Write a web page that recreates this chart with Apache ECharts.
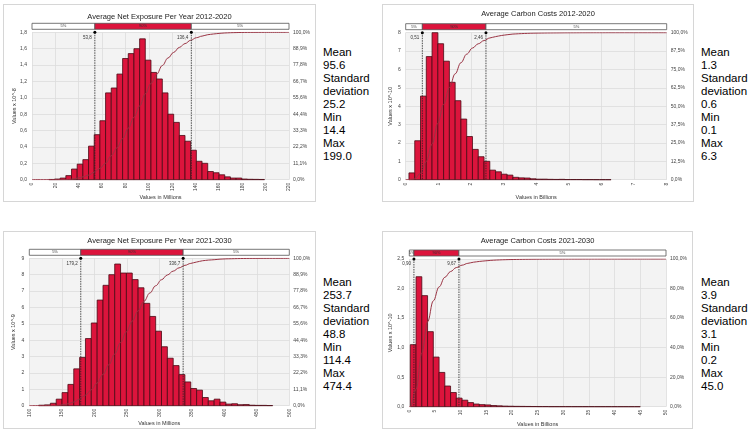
<!DOCTYPE html>
<html><head><meta charset="utf-8">
<script src="https://cdn.jsdelivr.net/npm/echarts@6/dist/echarts.min.js"></script>
<style>
html,body{margin:0;padding:0;background:#fff}
body{width:750px;height:433px;position:relative;overflow:hidden}
.panel{position:absolute;border:1px solid #d6d6d6;box-sizing:border-box;background:#fff}
.chart{width:100%;height:100%}
.stats{position:absolute;font-family:"Liberation Sans",Arial,sans-serif;font-size:11.5px;line-height:13px;color:#000;white-space:pre}
</style></head><body>
<div class="panel" style="left:3px;top:4px;width:313px;height:198px"><div id="c1" class="chart"></div></div>
<div class="panel" style="left:382px;top:4px;width:312px;height:198px"><div id="c2" class="chart"></div></div>
<div class="panel" style="left:3px;top:231px;width:313px;height:198px"><div id="c3" class="chart"></div></div>
<div class="panel" style="left:382px;top:231px;width:311px;height:198px"><div id="c4" class="chart"></div></div>
<div id="s1" class="stats" style="left:323px;top:46px"></div>
<div id="s2" class="stats" style="left:701px;top:46px"></div>
<div id="s3" class="stats" style="left:323px;top:276px"></div>
<div id="s4" class="stats" style="left:701px;top:276px"></div>
<script>
// ---------- DATA ----------
const titles = ["Average Net Exposure Per Year 2012-2020", "Average Carbon Costs 2012-2020",
                "Average Net Exposure Per Year 2021-2030", "Average Carbon Costs 2021-2030"];
const xNames = ["Values in Millions", "Values in Billions", "Values in Millions", "Values in Billions"];
const yNames = ["Values x 10^-8", "Values x 10^-10", "Values x 10^-9", "Values x 10^-10"];

// histogram bins: first bin start and bin width (x units)
const binStarts = [14.4, 0.1, 114.4, 0.2];
const binWidths = [4.858, 0.177, 9.0, 1.12];

const heights1 = [0.003, 0.008, 0.02, 0.05, 0.13, 0.19, 0.245, 0.41, 0.55, 0.72, 1.06, 1.12, 1.29, 1.48,
  1.54, 1.60, 1.72, 1.46, 1.31, 1.23, 1.06, 0.80, 0.70, 0.54, 0.47, 0.36, 0.225, 0.20, 0.10, 0.085,
  0.06, 0.035, 0.02, 0.02, 0.008, 0.005, 0.004, 0.003];
const heights2 = [0.37, 2.12, 4.55, 6.7, 8.0, 7.4, 6.45, 5.3, 4.3, 3.3, 2.35, 1.65, 1.25, 1.0, 0.52,
  0.43, 0.3, 0.25, 0.13, 0.1, 0.09, 0.05, 0.03, 0.03, 0.02, 0.015, 0.02, 0.01, 0.01, 0.01, 0.005,
  0.005, 0.003, 0.002, 0.002];
const heights3 = [0.03, 0.05, 0.15, 0.4, 0.8, 1.3, 2.25, 2.95, 4.1, 5.05, 6.45, 7.35, 8.0, 8.65, 8.1,
  8.1, 7.7, 7.2, 6.25, 5.45, 4.55, 3.6, 2.9, 2.45, 1.9, 1.45, 1.05, 0.95, 0.5, 0.3, 0.4, 0.22, 0.1,
  0.12, 0.06, 0.07, 0.03, 0.02, 0.02, 0.01];
const heights4 = [1.05, 2.2, 1.88, 1.27, 0.84, 0.58, 0.35, 0.24, 0.145, 0.11, 0.07, 0.045, 0.035, 0.03,
  0.02, 0.015, 0.01, 0.008, 0.006, 0.005, 0.004, 0.003, 0.002, 0.002, 0.001, 0.001, 0.001, 0.001,
  0.0005, 0.0005, 0.0005, 0.0005, 0.0003, 0.0003, 0.0003, 0.0002, 0.0002, 0.0002, 0.0001, 0.0001];

// 5% / 95% percentiles
const pct1 = [53.8, 136.4];
const pct2 = [0.51, 2.46];
const pct3 = [179.2, 336.7];
const pct4 = [0.90, 9.67];
const bandLabels = ["5%", "90%", "5%"];

// axes: [min, max, interval]
const xAxes = [[0, 220, 20], [0, 8, 1], [100, 500, 50], [0, 50, 5]];
const yAxes = [[0, 1.8, 0.2], [0, 8, 1], [0, 9, 1], [0, 2.5, 0.5]];
const yDecimals = [1, 0, 0, 1];

const stats1 = ["Mean", "95.6", "Standard", "deviation", "25.2", "Min", "14.4", "Max", "199.0"];
const stats2 = ["Mean", "1.3", "Standard", "deviation", "0.6", "Min", "0.1", "Max", "6.3"];
const stats3 = ["Mean", "253.7", "Standard", "deviation", "48.8", "Min", "114.4", "Max", "474.4"];
const stats4 = ["Mean", "3.9", "Standard", "deviation", "3.1", "Min", "0.2", "Max", "45.0"];

// ---------- LAYOUT / STYLE ----------
const grids = [
  {left: 28, top: 27.3, width: 257, height: 147.4},
  {left: 22.7, top: 27.7, width: 261, height: 147},
  {left: 25.3, top: 26.3, width: 260, height: 147.4},
  {left: 26.3, top: 27, width: 256.7, height: 147.7}
];
const yNameGaps = [15, 12.5, 12.5, 16];
const titleTops = [3, 0, 0, 0];
const RED = '#DC143C';
const FONT = '"Liberation Sans", Arial, sans-serif';
const comma = (v, d) => v.toFixed(d).replace('.', ',');

function buildOption(i, heights, pct) {
  const [xmin, xmax, xint] = xAxes[i];
  const [ymin, ymax, yint] = yAxes[i];
  const start = binStarts[i], w = binWidths[i];
  const nTicks = Math.round((ymax - ymin) / yint);
  const hist = heights.map((h, k) => [start + k * w, start + (k + 1) * w, h]);
  const total = heights.reduce((a, b) => a + b, 0);
  const cdf = [[xmin, 0], [start, 0]];
  let c = 0;
  heights.forEach((h, k) => { c += h; cdf.push([start + (k + 1) * w, c / total * 100]); });
  cdf.push([xmax, 100]);
  const band = [[xmin, pct[0]], [pct[0], pct[1]], [pct[1], xmax]];

  return {
    animation: false,
    textStyle: {fontFamily: FONT},
    title: {text: titles[i], left: 'center', top: titleTops[i],
      textStyle: {fontSize: 7.5, fontWeight: 'normal', color: '#222', fontFamily: FONT}},
    grid: Object.assign({show: true, backgroundColor: '#f3f3f3', borderWidth: 0,
      containLabel: false, outerBoundsMode: 'none'}, grids[i]),
    xAxis: {type: 'value', min: xmin, max: xmax, interval: xint,
      name: xNames[i], nameLocation: 'middle', nameGap: 14.5, nameMoveOverlap: false,
      nameTextStyle: {fontSize: 5.5, color: '#333'},
      axisLine: {show: false}, axisTick: {show: false},
      axisLabel: {rotate: 90, fontSize: 5, color: '#444', margin: 3},
      splitLine: {show: true, lineStyle: {color: '#dcdcdc', width: 0.8}}},
    yAxis: [
      {type: 'value', min: ymin, max: ymax, interval: yint,
        name: yNames[i], nameLocation: 'middle', nameGap: yNameGaps[i], nameRotate: 90, nameMoveOverlap: false,
        nameTextStyle: {fontSize: 5.5, color: '#333'},
        axisLine: {show: false}, axisTick: {show: false},
        axisLabel: {fontSize: 5, color: '#444', margin: 5, formatter: v => comma(v, yDecimals[i])},
        splitLine: {show: true, lineStyle: {color: '#dcdcdc', width: 0.8}}},
      {type: 'value', min: 0, max: 100, interval: 100 / nTicks, position: 'right',
        axisLine: {show: false}, axisTick: {show: false}, splitLine: {show: false},
        axisLabel: {fontSize: 5, color: '#444', margin: 4, formatter: v => comma(v, 1) + '%'}}
    ],
    series: [
      {type: 'custom', name: 'hist', data: hist, encode: {x: [0, 1], y: 2},
        renderItem: (params, api) => {
          const a = api.coord([api.value(0), api.value(2)]);
          const b = api.coord([api.value(1), 0]);
          return {type: 'rect', shape: {x: a[0], y: a[1], width: b[0] - a[0], height: b[1] - a[1]},
            style: {fill: RED, stroke: '#4a0a14', lineWidth: 0.8}};
        }},
      {type: 'line', yAxisIndex: 1, data: cdf, showSymbol: false, smooth: 0.4, smoothMonotone: 'x',
        lineStyle: {color: '#9a3444', width: 1}, z: 5},
      {type: 'custom', name: 'band', data: band, encode: {x: [0, 1]}, clip: false, z: 6,
        renderItem: (params, api) => {
          const a = api.coord([api.value(0), ymax]);
          const b = api.coord([api.value(1), ymax]);
          const h = 6, y = a[1] - 3 - h;
          const red = params.dataIndex === 1;
          return {type: 'group', children: [
            {type: 'rect', shape: {x: a[0], y: y, width: b[0] - a[0], height: h},
              style: {fill: red ? RED : '#ffffff', stroke: '#555', lineWidth: 0.8}},
            {type: 'text', style: {text: bandLabels[params.dataIndex], x: (a[0] + b[0]) / 2, y: y + h / 2,
              align: 'center', verticalAlign: 'middle', fontSize: 4, fill: red ? '#333' : '#444', fontFamily: FONT}}
          ]};
        }},
      {type: 'custom', name: 'pct', data: pct.map(p => [p]), encode: {x: 0}, clip: false, z: 7,
        renderItem: (params, api) => {
          const t = api.coord([api.value(0), ymax]);
          const b = api.coord([api.value(0), 0]);
          const p = pct[params.dataIndex];
          return {type: 'group', children: [
            {type: 'line', shape: {x1: t[0], y1: t[1], x2: b[0], y2: b[1]},
              style: {stroke: '#222', lineWidth: 0.8, lineDash: [1.5, 1]}},
            {type: 'circle', shape: {cx: t[0], cy: t[1], r: 1.5}, style: {fill: '#000'}},
            {type: 'text', style: {text: comma(p, p < 10 ? 2 : 1), x: t[0] - 3, y: t[1] + 5,
              align: 'right', verticalAlign: 'middle', fontSize: 4.5, fill: '#333', fontFamily: FONT}}
          ]};
        }}
    ]
  };
}

const heightsAll = [heights1, heights2, heights3, heights4];
const pctAll = [pct1, pct2, pct3, pct4];
const statsAll = [stats1, stats2, stats3, stats4];
for (let i = 0; i < 4; i++) {
  const ch = echarts.init(document.getElementById('c' + (i + 1)), null, {renderer: 'canvas'});
  ch.setOption(buildOption(i, heightsAll[i], pctAll[i]));
  document.getElementById('s' + (i + 1)).textContent = statsAll[i].join('\n');
}
</script>
</body></html>
